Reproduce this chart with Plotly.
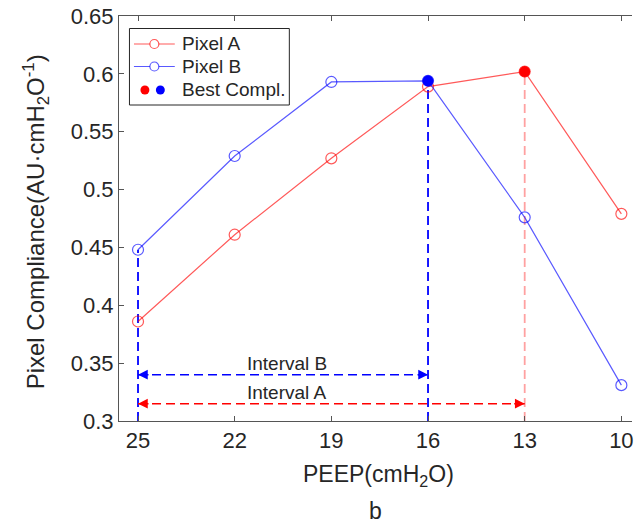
import plotly.graph_objects as go

# ---- data ----
peep = [25, 22, 19, 16, 13, 10]
pixel_a = [0.386, 0.461, 0.527, 0.589, 0.602, 0.479]
pixel_b = [0.448, 0.529, 0.593, 0.594, 0.476, 0.331]
best_peep = [13, 16]
best_val = [0.602, 0.594]
interval_a_x = [25, 13]
interval_b_x = [25, 16]
interval_a_y = 0.315
interval_b_y = 0.34
y_ticks = [0.3, 0.35, 0.4, 0.45, 0.5, 0.55, 0.6, 0.65]
y_ticktext = ["0.3", "0.35", "0.4", "0.45", "0.5", "0.55", "0.6", "0.65"]

W, H = 634, 524
L, R, T, B = 119, 0, 16, 103
FONT = "Liberation Sans, Arial, sans-serif"
TXT = "#262626"
AX = "#555555"

RED_L = "rgba(255,0,0,0.65)"
BLUE_L = "rgba(0,0,255,0.65)"
PINK = "rgba(255,130,130,0.75)"

def px(xp):
    return (xp - L) / (W - L - R)

def py(yp):
    return (H - B - yp) / (H - T - B)

fig = go.Figure()

# dashed vertical guides
ymin = 0.3
fig.add_trace(go.Scatter(x=[peep[0], peep[0]], y=[ymin, pixel_b[0]], mode="lines",
                         line=dict(color="#0000ff", width=1.8, dash="9px,5px"), hoverinfo="skip"))
fig.add_trace(go.Scatter(x=[best_peep[1], best_peep[1]], y=[ymin, best_val[1]], mode="lines",
                         line=dict(color="#0000ff", width=1.8, dash="9px,5px"), hoverinfo="skip"))
fig.add_trace(go.Scatter(x=[best_peep[0], best_peep[0]], y=[ymin, best_val[0]], mode="lines",
                         line=dict(color=PINK, width=1.8, dash="9px,5px"), hoverinfo="skip"))

# interval arrows (dashed lines)
fig.add_trace(go.Scatter(x=interval_b_x, y=[interval_b_y] * 2, mode="lines",
                         line=dict(color="#0000ff", width=1.5, dash="9px,5px"), hoverinfo="skip"))
fig.add_trace(go.Scatter(x=interval_a_x, y=[interval_a_y] * 2, mode="lines",
                         line=dict(color="#ff0000", width=1.5, dash="9px,5px"), hoverinfo="skip"))

# series
fig.add_trace(go.Scatter(x=peep, y=pixel_a, mode="lines+markers", name="Pixel A",
                         line=dict(color=RED_L, width=1.2),
                         marker=dict(symbol="circle-open", size=11, color=RED_L, line=dict(width=1.2))))
fig.add_trace(go.Scatter(x=peep, y=pixel_b, mode="lines+markers", name="Pixel B",
                         line=dict(color=BLUE_L, width=1.2),
                         marker=dict(symbol="circle-open", size=11, color=BLUE_L, line=dict(width=1.2))))
fig.add_trace(go.Scatter(x=best_peep, y=best_val, mode="markers", name="Best Compl.",
                         marker=dict(symbol="circle", size=11, color=["#ff0000", "#0000ff"])))

# arrowheads
annotations = []
for xs, yv, col in [(interval_b_x, interval_b_y, "#0000ff"), (interval_a_x, interval_a_y, "#ff0000")]:
    annotations.append(dict(x=xs[0], y=yv, xref="x", yref="y", ax=12, ay=0, text="",
                            showarrow=True, arrowhead=2, arrowsize=1.3, arrowwidth=1.5, arrowcolor=col))
    annotations.append(dict(x=xs[1], y=yv, xref="x", yref="y", ax=-12, ay=0, text="",
                            showarrow=True, arrowhead=2, arrowsize=1.3, arrowwidth=1.5, arrowcolor=col))

mid_b = (interval_b_x[0] + interval_b_x[1]) / 2
annotations.append(dict(x=mid_b, y=interval_b_y, xref="x", yref="y", text="Interval B",
                        showarrow=False, yanchor="bottom", xshift=4, yshift=-1,
                        font=dict(size=19, color=TXT, family=FONT)))
annotations.append(dict(x=mid_b, y=interval_a_y, xref="x", yref="y", text="Interval A",
                        showarrow=False, yanchor="bottom", xshift=4, yshift=-1,
                        font=dict(size=19, color=TXT, family=FONT)))

# axis titles
annotations.append(dict(x=px(36), y=py(222), xref="paper", yref="paper",
                        text="Pixel Compliance(AU·cmH<sub>2</sub>O<sup>-1</sup>)", textangle=-90,
                        showarrow=False, xanchor="center", yanchor="middle",
                        font=dict(size=24, color=TXT, family=FONT)))
annotations.append(dict(x=px(380), y=py(475), xref="paper", yref="paper",
                        text="PEEP(cmH<sub>2</sub>O)", showarrow=False,
                        xanchor="center", yanchor="middle",
                        font=dict(size=23, color=TXT, family=FONT)))
annotations.append(dict(x=px(377), y=py(511), xref="paper", yref="paper",
                        text="b", showarrow=False, xanchor="center", yanchor="middle",
                        font=dict(size=23, color=TXT, family=FONT)))

# manual legend
shapes = []
shapes.append(dict(type="rect", xref="paper", yref="paper", x0=px(129.5), x1=px(290), y0=py(28.5), y1=py(105),
                   line=dict(color="#262626", width=1), fillcolor="white", layer="above"))
leg_rows = [("Pixel A", RED_L, 44), ("Pixel B", BLUE_L, 66.5)]
for name, col, yy in leg_rows:
    shapes.append(dict(type="line", xref="paper", yref="paper", x0=px(134), x1=px(175), y0=py(yy), y1=py(yy),
                       line=dict(color=col, width=1.2), layer="above"))
    shapes.append(dict(type="circle", xref="paper", yref="paper", x0=px(150), x1=px(159), y0=py(yy - 4.5), y1=py(yy + 4.5),
                       line=dict(color=col, width=1.2), fillcolor="white", layer="above"))
    annotations.append(dict(x=px(180), y=py(yy), xref="paper", yref="paper", text=name, showarrow=False,
                            xanchor="left", yanchor="middle", font=dict(size=19, color=TXT, family=FONT)))
for cx, col in [(145, "#ff0000"), (160.5, "#0000ff")]:
    shapes.append(dict(type="circle", xref="paper", yref="paper", x0=px(cx - 4.5), x1=px(cx + 4.5),
                       y0=py(90 - 4.5), y1=py(90 + 4.5), line=dict(color=col, width=0), fillcolor=col, layer="above"))
annotations.append(dict(x=px(180), y=py(90), xref="paper", yref="paper", text="Best Compl.", showarrow=False,
                        xanchor="left", yanchor="middle", font=dict(size=19, color=TXT, family=FONT)))

fig.update_layout(
    width=W, height=H,
    margin=dict(l=L, r=R, t=T, b=B, pad=0),
    paper_bgcolor="white", plot_bgcolor="white",
    showlegend=False,
    font=dict(family=FONT, color=TXT),
    xaxis=dict(range=[25.59, 9.67], tickvals=peep, ticktext=[str(v) for v in peep],
               showgrid=False, zeroline=False, showline=True, linecolor=AX, linewidth=1,
               mirror="ticks", ticks="inside", ticklen=5, tickcolor=AX,
               ticklabeloverflow="allow",
               tickfont=dict(size=22, color=TXT, family=FONT)),
    yaxis=dict(range=[0.3, 0.65], tickvals=y_ticks, ticktext=y_ticktext,
               showgrid=False, zeroline=False, showline=True, linecolor=AX, linewidth=1,
               ticks="inside", ticklen=5, tickcolor=AX,
               tickfont=dict(size=22, color=TXT, family=FONT)),
    annotations=annotations,
    shapes=shapes,
)

fig.write_html("out.html", config={"displayModeBar": False},
               post_script="document.body.style.margin='0';document.body.style.overflow='hidden';")
